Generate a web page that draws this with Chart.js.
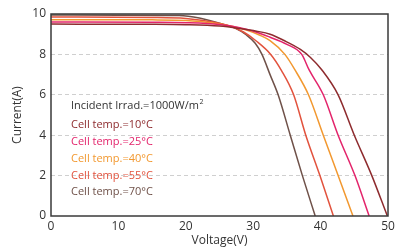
<!DOCTYPE html>
<html>
<head>
<meta charset="utf-8">
<script src="https://cdn.jsdelivr.net/npm/chart.js@4"></script>
<style>
  html, body { margin: 0; padding: 0; background: #fff; }
  #wrap { width: 404px; height: 248px; }
</style>
</head>
<body>
<div id="wrap"><canvas id="ivChart" width="404" height="248"></canvas></div>
<script>
'use strict';

// I-V curves, one per cell temperature (voltage in V, current in A)
var voltage10 = [0, 15, 20, 25, 28, 30.5, 32.5, 34.5, 37, 38.5, 40.2, 42.6, 45, 47.6, 49.9];
var current10 = [9.5, 9.49, 9.47, 9.4, 9.28, 9.15, 9.0, 8.7, 8.25, 7.85, 7.23, 6.0, 4.0, 2.0, 0];

var voltage25 = [0, 15, 20, 25, 28, 30.5, 32.5, 35, 37.2, 38.3, 40.4, 42.6, 45.1, 47.2];
var current25 = [9.6, 9.59, 9.57, 9.48, 9.32, 9.1, 8.85, 8.5, 8.0, 7.23, 6.0, 4.0, 2.0, 0];

var voltage40 = [0, 15, 20, 24, 27, 29, 31, 32.5, 34.7, 36.2, 38.2, 40.4, 42.6, 44.8];
var current40 = [9.72, 9.71, 9.68, 9.56, 9.38, 9.2, 8.95, 8.68, 8.0, 7.23, 6.0, 4.0, 2.0, 0];

var voltage55 = [0, 15, 20, 24, 26.5, 28.5, 30.5, 32.6, 34.2, 36.0, 37.8, 39.9, 41.9];
var current55 = [9.85, 9.83, 9.78, 9.6, 9.4, 9.12, 8.65, 8.0, 7.2, 6.0, 4.0, 2.0, 0];

var voltage70 = [0, 10, 19, 22, 25, 27.3, 29, 30.3, 31.3, 32.5, 33.7, 35.5, 37.3, 39.2];
var current70 = [9.95, 9.94, 9.92, 9.8, 9.54, 9.3, 8.96, 8.55, 8.0, 7.0, 6.0, 4.0, 2.0, 0];

var seriesLabels = ['Cell temp.=10°C', 'Cell temp.=25°C', 'Cell temp.=40°C', 'Cell temp.=55°C', 'Cell temp.=70°C'];
var irradLabel = 'Incident Irrad.=1000W/m';

var xTicks = [0, 10, 20, 30, 40, 50];
var yTicks = [0, 2, 4, 6, 8, 10];

var colors = {
    t10      : "#8e2b2e",
    t25      : "#e3246b",
    t40      : "#f2982f",
    t55      : "#e2523d",
    t70      : "#6f5149",
    text     : "#333333",
    grid     : "#cfcfcf",
    frame    : "#3a3a3a"
}

var fontFamily = "'Open Sans', 'Noto Sans', sans-serif";

function toPoints(xs, ys) {
    return xs.map(function(x, i) { return {x: x, y: ys[i]}; });
}

function lineSet(label, xs, ys, color) {
    return {
        label: label,
        data: toPoints(xs, ys),
        borderColor: color,
        backgroundColor: 'transparent',
        borderWidth: 1.5,
        pointRadius: 0,
        cubicInterpolationMode: 'monotone',
        fill: false
    };
}

// frame around the plot + the text block on the left
var framePlugin = {
    id: 'frame',
    afterDatasetsDraw: function(chart) {
        var a = chart.chartArea, ctx = chart.ctx;
        ctx.save();
        ctx.strokeStyle = colors.frame;
        ctx.lineWidth = 1.5;
        ctx.strokeRect(a.left, a.top, a.right - a.left, a.bottom - a.top);

        ctx.font = '11px ' + fontFamily;
        ctx.textBaseline = 'middle';
        ctx.textAlign = 'left';
        ctx.fillStyle = colors.text;
        var tx = 71;
        ctx.fillText(irradLabel, tx, 106);
        var w = ctx.measureText(irradLabel).width;
        ctx.font = '7px ' + fontFamily;
        ctx.fillText('2', tx + w + 0.5, 101.5);

        ctx.font = '11px ' + fontFamily;
        var labelColors = [colors.t10, colors.t25, colors.t40, colors.t55, colors.t70];
        seriesLabels.forEach(function(txt, i) {
            ctx.fillStyle = labelColors[i];
            ctx.fillText(txt, tx, 125 + i * 16.8);
        });
        ctx.restore();
    }
};

new Chart(document.getElementById('ivChart'), {
    type: 'line',
    data: {
        datasets: [
            lineSet(seriesLabels[0], voltage10, current10, colors.t10),
            lineSet(seriesLabels[1], voltage25, current25, colors.t25),
            lineSet(seriesLabels[2], voltage40, current40, colors.t40),
            lineSet(seriesLabels[3], voltage55, current55, colors.t55),
            lineSet(seriesLabels[4], voltage70, current70, colors.t70)
        ]
    },
    options: {
        responsive: false,
        animation: false,
        layout: { padding: { left: 0, right: 16, top: 14, bottom: 0 } },
        plugins: {
            legend: { display: false },
            tooltip: { enabled: false }
        },
        scales: {
            x: {
                type: 'linear',
                min: 0,
                max: 50,
                afterBuildTicks: function(scale) {
                    scale.ticks = xTicks.map(function(v) { return {value: v}; });
                },
                afterFit: function(scale) { scale.height = 32; },
                grid: { display: false, drawTicks: false },
                border: { display: false },
                ticks: {
                    color: colors.text,
                    padding: 3,
                    maxRotation: 0,
                    font: { size: 12, family: fontFamily }
                },
                title: {
                    display: true,
                    text: 'Voltage(V)',
                    color: colors.text,
                    padding: { top: 0, bottom: 0 },
                    font: { size: 12, family: fontFamily }
                }
            },
            y: {
                type: 'linear',
                min: 0,
                max: 10,
                afterBuildTicks: function(scale) {
                    scale.ticks = yTicks.map(function(v) { return {value: v}; });
                },
                afterFit: function(scale) { scale.width = 51; },
                grid: {
                    drawTicks: false,
                    lineWidth: 1,
                    color: function(c) {
                        return (c.tick && (c.tick.value === 0 || c.tick.value === 10)) ? 'transparent' : colors.grid;
                    }
                },
                border: { display: false, dash: [4, 3] },
                ticks: {
                    color: colors.text,
                    padding: 5,
                    font: { size: 12, family: fontFamily }
                },
                title: {
                    display: true,
                    text: 'Current(A)',
                    color: colors.text,
                    padding: { top: 10, bottom: 0 },
                    font: { size: 12, family: fontFamily }
                }
            }
        }
    },
    plugins: [framePlugin]
});
</script>
</body>
</html>
